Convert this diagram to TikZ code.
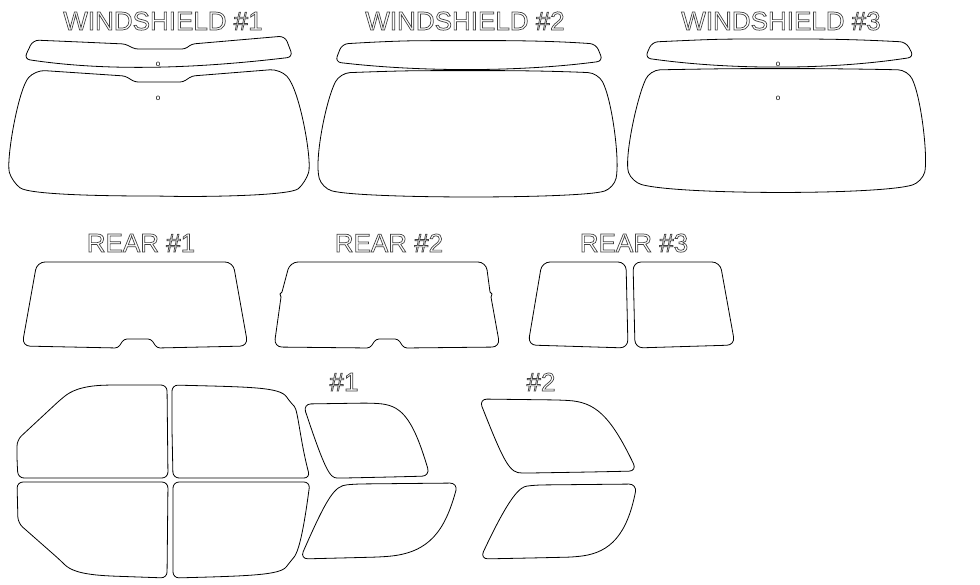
\documentclass[tikz,border=0pt]{standalone}
\usepackage{fontspec}
\setmainfont{Liberation Sans}
\newcommand{\outl}[1]{\special{pdf:literal direct 1 Tr 0.7 w 0.25 0.25 0.25 RG}#1\special{pdf:literal direct 0 Tr}}
\begin{document}
\begin{tikzpicture}[x=1pt,y=-1pt,
  glass/.style={draw=black,line width=0.8pt,rounded corners=8pt},
  ttl/.style={font=\fontsize{26}{26}\selectfont,inner sep=0pt},
  dot/.style={font=\fontsize{8}{8}\selectfont,inner sep=0pt}]
\useasboundingbox (0,0) rectangle (980,584);
% titles
\node[ttl] (t1) at (163,21) {\outl{WINDSHIELD \#1}};
\node[ttl] (t2) at (465,21) {\outl{WINDSHIELD \#2}};
\node[ttl] (t3) at (781,21) {\outl{WINDSHIELD \#3}};
\node[ttl] (r1) at (141,243) {\outl{REAR \#1}};
\node[ttl] (r2) at (389,243) {\outl{REAR \#2}};
\node[ttl] (r3) at (634,243) {\outl{REAR \#3}};
\node[ttl] (s1) at (344,382) {\outl{\#1}};
\node[ttl] (s2) at (541,382) {\outl{\#2}};
% windshield 1
\draw[line width=0.8pt,rounded corners=6pt] (80,42) [rounded corners=3pt] -- (125,44) -- (135,49) -- (185,49) -- (192,44) [rounded corners=6pt] -- (285,36) -- (293,57)
  .. controls (200,68) and (110,72) .. (24,59) -- (33,40) -- cycle;
\draw[line width=0.8pt,rounded corners=10pt] (80,73) [rounded corners=3pt] -- (125,76) -- (135,82) -- (183,82) -- (192,76) [rounded corners=10pt] -- (280,69) .. controls (300,90) and (312,160) .. (306,182)
  .. controls (290,196) and (200,197) .. (158,196) .. controls (110,196) and (30,195) .. (12,182) .. controls (6,160) and (18,90) .. (35,70) -- cycle;
\node[dot] (o1) at (158,64) {o};
\node[dot] (o2) at (158,98) {o};
% windshield 2
\draw[line width=0.8pt,rounded corners=6pt] (440,40.6) -- (500,40.6) .. controls (550,41) and (575,42.5) .. (596,44) -- (603,61)
  .. controls (520,72) and (420,72) .. (335,62) -- (342,44) .. controls (365,42.5) and (395,41) .. (420,40.7) -- cycle;
\draw[line width=0.8pt,rounded corners=10pt] (440,70.6) -- (500,70.6) .. controls (550,71) and (575,72) .. (598,73) .. controls (612,100) and (620,160) .. (614,188)
  .. controls (580,199) and (360,199) .. (322,188) .. controls (314,160) and (326,100) .. (340,73) .. controls (365,72) and (395,71) .. (420,70.7) -- cycle;
% windshield 3
\draw[line width=0.8pt,rounded corners=6pt] (750,39) -- (810,39) .. controls (860,39.5) and (885,41) .. (906,42) -- (914,57)
  .. controls (830,70) and (730,70) .. (645,58) -- (652,42) .. controls (675,41) and (705,39.5) .. (730,39.1) -- cycle;
\draw[line width=0.8pt,rounded corners=10pt] (750,68.6) -- (810,68.6) .. controls (860,69) and (885,69.5) .. (908,70) .. controls (922,100) and (928,160) .. (922,182)
  .. controls (880,195) and (680,195) .. (632,182) .. controls (624,160) and (636,100) .. (650,70) .. controls (675,69.5) and (705,69) .. (730,68.7) -- cycle;
\node[dot] (o3) at (778,64) {o};
\node[dot] (o4) at (778,98) {o};
% rear 1
\draw[glass] (135,262) -- (233,262) -- (248,346) [rounded corners=3pt] -- (157,348) -- (151,339) -- (124,339) -- (118,348) [rounded corners=8pt] -- (22,346) -- (37,262) -- cycle;
% rear 2
\draw[glass] (388,262) -- (486,262) [sharp corners] -- (490,292) -- (492,294) -- (491,297) [rounded corners=8pt] -- (500,347) [rounded corners=3pt] -- (404,348) -- (398,339) -- (376,339) -- (370,348) [rounded corners=8pt] -- (274,347) [sharp corners] -- (281,297) -- (280,294) -- (282,292) [rounded corners=8pt] -- (290,262) -- cycle;
% rear 3
\draw[glass] (584,262) -- (626,262) -- (628,348) -- (528,345) -- (542,262) -- cycle;
\draw[glass] (676,262) -- (720,262) -- (735,345) -- (635,348) -- (633,262) -- cycle;
% side left group
\draw[glass,rounded corners=6pt] (17,460) -- (18,478) -- (168,478) -- (167,385) -- (110,385) .. controls (80,386) and (70,392) .. (60,400) -- (17,440) -- cycle;
\draw[glass,rounded corners=6pt] (172,430) -- (173,478) -- (310,478) .. controls (300,440) and (298,410) .. (290,402) .. controls (280,387) and (250,387) .. (172,385) -- cycle;
\draw[glass,rounded corners=6pt] (90,482) -- (168,482) -- (167,578) -- (110,576) .. controls (80,574) and (70,570) .. (60,560) -- (18,523) -- (17,482) -- cycle;
\draw[glass,rounded corners=6pt] (240,482) -- (310,482) .. controls (305,520) and (300,550) .. (290,562) .. controls (280,575) and (250,576) .. (173,578) -- (173,482) -- cycle;
% side #1
\draw[glass,rounded corners=8pt] (390,477) -- (345,478) .. controls (330,478) and (325,470) .. (303,404) -- (370,403) .. controls (400,405) and (412,415) .. (430,476) -- cycle;
\draw[glass,rounded corners=8pt] (340,558) -- (380,557) .. controls (430,553) and (445,530) .. (458,483) -- (355,484) .. controls (335,486) and (328,495) .. (300,559) -- cycle;
% side #2
\draw[glass,rounded corners=8pt] (590,472) -- (530,473) .. controls (510,473) and (505,465) .. (479,399) -- (560,400) .. controls (595,402) and (610,415) .. (637,471) -- cycle;
\draw[glass,rounded corners=8pt] (530,558) -- (575,557) .. controls (610,552) and (627,535) .. (637,484) -- (535,485) .. controls (520,487) and (510,495) .. (480,559) -- cycle;
\end{tikzpicture}
\end{document}
